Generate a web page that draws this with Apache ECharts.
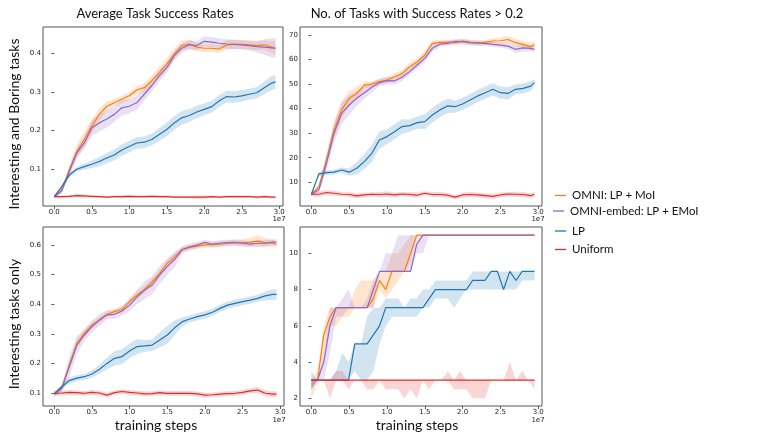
<!DOCTYPE html>
<html>
<head>
<meta charset="utf-8">
<script src="https://cdn.jsdelivr.net/npm/echarts@6/dist/echarts.min.js"></script>
<style>
html, body { margin: 0; padding: 0; background: #fff; }
#chart { width: 761px; height: 442px; }
</style>
</head>
<body>
<div id="chart"></div>
<script>
// method names and colours
const methods = ['OMNI: LP + MoI', 'OMNI-embed: LP + EMoI', 'LP', 'Uniform'];
const colors = ['#ff7f0e', '#9265c8', '#1f77b4', '#e32b2b'];

// training steps (x 1e7)
const steps = [0, 0.1, 0.2, 0.3, 0.4, 0.5, 0.6, 0.7, 0.8, 0.9, 1.0, 1.1, 1.2, 1.3, 1.4, 1.5,
  1.6, 1.7, 1.8, 1.9, 2.0, 2.1, 2.2, 2.3, 2.4, 2.5, 2.6, 2.7, 2.8, 2.9, 2.95];
const stepsCount = [0, 0.082, 0.164, 0.246, 0.328, 0.41, 0.492, 0.574, 0.656, 0.738, 0.82,
  0.902, 0.984, 1.066, 1.148, 1.23, 1.312, 1.394, 1.476, 1.558, 1.64, 1.722, 1.804, 1.886,
  1.968, 2.05, 2.132, 2.214, 2.296, 2.378, 2.46, 2.542, 2.624, 2.706, 2.788, 2.87, 2.952];

// tick labels
const xTicks = [0, 0.5, 1.0, 1.5, 2.0, 2.5, 3.0];
const yTicksAvgAll = [0.1, 0.2, 0.3, 0.4];
const yTicksCntAll = [10, 20, 30, 40, 50, 60, 70];
const yTicksAvgInt = [0.1, 0.2, 0.3, 0.4, 0.5, 0.6];
const yTicksCntInt = [2, 4, 6, 8, 10];

// panel 1: average success, interesting + boring
const omniAvgAll = [0.029, 0.046, 0.098, 0.146, 0.177, 0.211, 0.242, 0.263, 0.272, 0.281, 0.290, 0.305, 0.311, 0.329, 0.350, 0.372,
  0.398, 0.420, 0.424, 0.416, 0.413, 0.413, 0.411, 0.422, 0.423, 0.423, 0.422, 0.420, 0.422, 0.416, 0.413];
const embedAvgAll = [0.029, 0.044, 0.094, 0.142, 0.168, 0.207, 0.220, 0.230, 0.242, 0.259, 0.263, 0.272, 0.294, 0.316, 0.342, 0.363,
  0.394, 0.413, 0.422, 0.420, 0.431, 0.429, 0.426, 0.424, 0.423, 0.422, 0.420, 0.417, 0.416, 0.414, 0.413];
const lpAvgAll = [0.029, 0.055, 0.085, 0.100, 0.107, 0.113, 0.120, 0.129, 0.137, 0.150, 0.159, 0.168, 0.170, 0.177, 0.190, 0.203,
  0.220, 0.233, 0.239, 0.248, 0.255, 0.262, 0.277, 0.288, 0.287, 0.290, 0.294, 0.298, 0.311, 0.323, 0.326];
const uniAvgAll = [0.029, 0.029, 0.030, 0.032, 0.031, 0.030, 0.029, 0.028, 0.029, 0.029, 0.030, 0.029, 0.029, 0.030, 0.029, 0.029,
  0.028, 0.028, 0.028, 0.028, 0.028, 0.029, 0.028, 0.029, 0.029, 0.029, 0.029, 0.028, 0.029, 0.028, 0.028];
const omniAvgAllSd = [0.003, 0.006, 0.012, 0.018, 0.02, 0.018, 0.015, 0.012, 0.01, 0.01, 0.01, 0.01, 0.012, 0.015, 0.015, 0.016,
  0.015, 0.012, 0.012, 0.01, 0.01, 0.01, 0.01, 0.012, 0.012, 0.012, 0.012, 0.012, 0.012, 0.015, 0.018];
const embedAvgAllSd = [0.003, 0.005, 0.01, 0.012, 0.015, 0.02, 0.022, 0.022, 0.02, 0.02, 0.018, 0.018, 0.016, 0.015, 0.015, 0.014,
  0.012, 0.012, 0.012, 0.012, 0.013, 0.013, 0.012, 0.012, 0.012, 0.012, 0.012, 0.015, 0.02, 0.025, 0.025];
const lpAvgAllSd = [0.002, 0.004, 0.006, 0.006, 0.008, 0.01, 0.012, 0.013, 0.014, 0.015, 0.015, 0.015, 0.015, 0.015, 0.016, 0.018,
  0.018, 0.018, 0.017, 0.016, 0.015, 0.015, 0.015, 0.015, 0.015, 0.015, 0.014, 0.015, 0.016, 0.018, 0.018];
const uniAvgAllSd = [0.002, 0.003, 0.003, 0.004, 0.004, 0.003, 0.003, 0.003, 0.003, 0.004, 0.004, 0.003, 0.003, 0.003, 0.004, 0.003,
  0.003, 0.003, 0.003, 0.004, 0.004, 0.003, 0.003, 0.003, 0.004, 0.004, 0.003, 0.003, 0.003, 0.003, 0.003];

// panel 2: tasks with success > 0.2, interesting + boring
const omniCntAll = [5.1, 8.2, 19.1, 31.3, 39.5, 44.2, 46.2, 49.6, 50, 51, 51.7, 53, 54.4, 57.1, 59.1, 61.9,
  66.6, 67, 67.1, 66.9, 67.6, 67, 66.9, 67, 67.6, 67.7, 68.2, 66.9, 66.2, 65.2, 66.2];
const embedCntAll = [5.1, 6.9, 17.7, 30, 38.1, 41.5, 44.2, 46.5, 48.7, 50.6, 51.4, 51.3, 52.8, 55.1, 57.8, 60.5,
  64.6, 66.3, 66.6, 67.4, 67.3, 66.9, 66.7, 66.6, 66.2, 65.9, 65.5, 64.2, 64.8, 64.6, 64.2];
const lpCntAll = [5.1, 13.4, 13.9, 14.1, 15, 14.1, 15.7, 18.4, 21.8, 27.2, 28.6, 30.6, 32.7, 33.1, 34.3, 34.7,
  37.4, 39.5, 41.1, 40.8, 41.9, 43.5, 45.2, 46.5, 47.9, 46.5, 46.2, 47.9, 48.3, 49.2, 50.6];
const uniCntAll = [5.1, 5.1, 5.8, 5.5, 5.1, 5.0, 4.4, 4.8, 5.1, 5.0, 5.2, 4.8, 5.2, 5.0, 4.7, 5.5,
  5.0, 5.0, 4.7, 3.9, 4.8, 5.0, 4.8, 4.5, 4.2, 4.8, 5.2, 5.1, 5.0, 4.5, 5.1];
const omniCntAllSd = [0.5, 1, 2.5, 3.5, 3.5, 3, 2.5, 1.5, 1.2, 1.2, 1.2, 1.5, 1.5, 1.5, 1.5, 1.5,
  1.2, 1, 1, 1, 1, 1, 1, 1, 1.2, 1.2, 1.5, 1.5, 1.5, 1.5, 1.5];
const embedCntAllSd = [0.5, 1, 3, 4, 4.5, 4, 3, 2.5, 2, 1.5, 1.5, 1.5, 1.5, 1.5, 1.5, 1.5,
  1.5, 1.2, 1, 1, 1, 1, 1, 1, 1, 1, 1.2, 1.5, 1.5, 1.2, 1.2];
const lpCntAllSd = [0.5, 1, 1, 1, 1, 1.5, 2.5, 3, 3.5, 3.5, 3, 3, 3, 2.5, 2.5, 3,
  3, 3, 3, 2.5, 2.5, 2.5, 2.5, 2.5, 2.5, 2.5, 2.5, 2, 2, 2, 1.5];
const uniCntAllSd = [0.8, 1, 1, 1, 0.8, 1, 1, 1, 0.8, 1, 1, 1, 0.8, 1, 1, 0.8,
  1, 1, 1, 0.8, 1, 1, 1, 1, 1, 1, 0.8, 1, 1, 1, 1];

// panel 3: average success, interesting tasks only
const omniAvgInt = [0.097, 0.116, 0.195, 0.268, 0.302, 0.330, 0.347, 0.366, 0.375, 0.383, 0.409, 0.431, 0.450, 0.476, 0.504, 0.538,
  0.561, 0.585, 0.592, 0.597, 0.600, 0.602, 0.603, 0.606, 0.608, 0.608, 0.610, 0.613, 0.608, 0.606, 0.602];
const embedAvgInt = [0.097, 0.116, 0.189, 0.262, 0.296, 0.324, 0.347, 0.364, 0.366, 0.377, 0.397, 0.425, 0.448, 0.465, 0.499, 0.527,
  0.552, 0.585, 0.594, 0.600, 0.609, 0.602, 0.606, 0.608, 0.609, 0.606, 0.603, 0.606, 0.606, 0.610, 0.610];
const lpAvgInt = [0.097, 0.121, 0.142, 0.150, 0.155, 0.164, 0.180, 0.200, 0.217, 0.223, 0.242, 0.257, 0.259, 0.262, 0.279, 0.296,
  0.321, 0.341, 0.350, 0.358, 0.364, 0.373, 0.386, 0.397, 0.403, 0.409, 0.414, 0.420, 0.428, 0.433, 0.433];
const uniAvgInt = [0.099, 0.100, 0.102, 0.101, 0.099, 0.102, 0.100, 0.093, 0.101, 0.105, 0.102, 0.100, 0.097, 0.098, 0.101, 0.099,
  0.099, 0.099, 0.099, 0.097, 0.093, 0.094, 0.096, 0.098, 0.099, 0.102, 0.107, 0.110, 0.099, 0.096, 0.096];
const omniAvgIntSd = [0.008, 0.01, 0.015, 0.015, 0.012, 0.01, 0.01, 0.01, 0.01, 0.01, 0.012, 0.012, 0.012, 0.012, 0.012, 0.012,
  0.012, 0.01, 0.01, 0.01, 0.01, 0.01, 0.01, 0.01, 0.01, 0.012, 0.015, 0.02, 0.015, 0.012, 0.01];
const embedAvgIntSd = [0.008, 0.012, 0.035, 0.03, 0.02, 0.02, 0.02, 0.015, 0.015, 0.015, 0.02, 0.025, 0.03, 0.03, 0.03, 0.028,
  0.025, 0.01, 0.01, 0.01, 0.01, 0.01, 0.01, 0.01, 0.01, 0.01, 0.01, 0.01, 0.01, 0.01, 0.01];
const lpAvgIntSd = [0.005, 0.008, 0.01, 0.01, 0.01, 0.012, 0.015, 0.02, 0.025, 0.025, 0.025, 0.025, 0.02, 0.02, 0.025, 0.03,
  0.025, 0.015, 0.012, 0.012, 0.012, 0.012, 0.012, 0.012, 0.012, 0.012, 0.012, 0.012, 0.015, 0.018, 0.018];
const uniAvgIntSd = [0.008, 0.008, 0.008, 0.008, 0.008, 0.008, 0.008, 0.008, 0.008, 0.008, 0.008, 0.008, 0.008, 0.008, 0.008, 0.008,
  0.008, 0.008, 0.008, 0.008, 0.008, 0.008, 0.008, 0.008, 0.008, 0.008, 0.008, 0.01, 0.01, 0.01, 0.01];

// panel 4: tasks with success > 0.2, interesting tasks only (min / max bands)
const omniCntInt = [3, 3, 5.5, 6.5, 7, 7, 7, 7, 7, 7, 7.5, 8.5, 8, 9, 9, 9, 10,
  11, 11, 11, 11, 11, 11, 11, 11, 11, 11, 11, 11, 11, 11, 11, 11, 11, 11, 11, 11];
const embedCntInt = [3, 3, 4, 6, 7, 7, 7, 7, 7, 7, 8, 9, 9, 9, 9, 9, 9, 10.5,
  11, 11, 11, 11, 11, 11, 11, 11, 11, 11, 11, 11, 11, 11, 11, 11, 11, 11, 11];
const lpCntInt = [3, 3, 3, 3, 3, 3, 3, 5, 5, 5, 5.5, 6, 7, 7, 7, 7, 7, 7, 7, 7.5,
  8, 8, 8, 8, 8, 8, 8.5, 8.5, 8.5, 9, 9, 8, 9, 8.5, 9, 9, 9];
const uniCntInt = [3, 3, 3, 3, 3, 3, 3, 3, 3, 3, 3, 3, 3, 3, 3, 3, 3, 3, 3, 3,
  3, 3, 3, 3, 3, 3, 3, 3, 3, 3, 3, 3, 3, 3, 3, 3, 3];
const omniCntIntLo = [2, 2.8, 4.5, 6, 6, 6.5, 6.5, 7, 7, 7, 7, 8, 7.5, 8, 8.5, 9, 9.5,
  11, 11, 11, 11, 11, 11, 11, 11, 11, 11, 11, 11, 11, 11, 11, 11, 11, 11, 11, 11];
const omniCntIntHi = [3, 3.5, 6, 7, 7, 7, 7, 8, 8.5, 8.5, 8.5, 9, 9, 10, 10, 10.5, 11,
  11, 11, 11, 11, 11, 11, 11, 11, 11, 11, 11, 11, 11, 11, 11, 11, 11, 11, 11, 11];
const embedCntIntLo = [2.5, 3, 3, 4.5, 6.5, 6.5, 7, 7, 7, 7, 7, 9, 9, 9, 9, 9, 9, 10, 10,
  11, 11, 11, 11, 11, 11, 11, 11, 11, 11, 11, 11, 11, 11, 11, 11, 11, 11];
const embedCntIntHi = [3, 3, 4.5, 7, 7, 7.5, 8, 7, 7, 7.5, 8.5, 9, 10, 10, 11, 11, 11, 11, 11,
  11, 11, 11, 11, 11, 11, 11, 11, 11, 11, 11, 11, 11, 11, 11, 11, 11, 11];
const lpCntIntLo = [2.5, 3, 3, 3, 3, 3, 3, 3.5, 3, 3, 3.5, 5, 6, 6.5, 6.5, 6.5, 6.5, 6.5, 7, 7,
  7.5, 7.5, 7.5, 7, 7.5, 8, 8, 8, 8, 8, 8, 8, 8, 8, 8.5, 8.5, 8.5];
const lpCntIntHi = [3.5, 3, 3, 3, 3.5, 4.5, 4, 5, 5, 6.5, 7, 7, 7.5, 7.5, 7.5, 7, 7.5, 7.5, 8, 8,
  8.5, 8.5, 8.5, 8.5, 8.5, 8.5, 9, 9, 9, 9, 9, 9, 9, 9, 9, 9, 9];
const uniCntIntLo = [2.5, 3, 3, 2, 3, 3, 2.5, 3, 3, 2.5, 2.5, 3, 2.5, 2.5, 2.5, 2, 2.5, 2, 3, 2.5,
  3, 3, 3, 2.5, 2.5, 2.5, 2, 2, 2, 3, 3, 3, 3, 3, 3, 3, 2.5];
const uniCntIntHi = [3, 3, 3, 3, 3.5, 3.5, 3, 3, 3, 3, 3, 3, 3, 3, 3, 3, 3, 3, 3, 3,
  3, 3, 3.5, 3, 3.5, 3, 3, 3, 3, 3, 3, 3, 4, 3, 3.5, 3, 3];

const chart = echarts.init(document.getElementById('chart'), null, { renderer: 'canvas' });

const tickFont = { fontFamily: 'DejaVu Sans', fontSize: 7, color: '#222' };

// panel layout
const grids = [
  { left: 43, top: 27, width: 240, height: 179 },
  { left: 300, top: 27, width: 242, height: 179 },
  { left: 43, top: 227, width: 241, height: 179 },
  { left: 300, top: 227, width: 242, height: 179 }
];
const yRanges = [[0.005, 0.468], [0.3, 73.3], [0.056, 0.661], [1.575, 11.45]];
const yTicks = [yTicksAvgAll, yTicksCntAll, yTicksAvgInt, yTicksCntInt];
const yFmt = [v => v.toFixed(1), v => String(v), v => v.toFixed(1), v => String(v)];

function mkBand(xs, lo, hi) {
  return xs.map((x, i) => [x, lo[i], hi[i]]);
}
function fromSd(mean, sd, sign) {
  return mean.map((m, i) => m + sign * sd[i]);
}

const panels = [
  { xs: steps, lines: [omniAvgAll, embedAvgAll, lpAvgAll, uniAvgAll],
    lo: [fromSd(omniAvgAll, omniAvgAllSd, -1), fromSd(embedAvgAll, embedAvgAllSd, -1), fromSd(lpAvgAll, lpAvgAllSd, -1), fromSd(uniAvgAll, uniAvgAllSd, -1)],
    hi: [fromSd(omniAvgAll, omniAvgAllSd, 1), fromSd(embedAvgAll, embedAvgAllSd, 1), fromSd(lpAvgAll, lpAvgAllSd, 1), fromSd(uniAvgAll, uniAvgAllSd, 1)] },
  { xs: steps, lines: [omniCntAll, embedCntAll, lpCntAll, uniCntAll],
    lo: [fromSd(omniCntAll, omniCntAllSd, -1), fromSd(embedCntAll, embedCntAllSd, -1), fromSd(lpCntAll, lpCntAllSd, -1), fromSd(uniCntAll, uniCntAllSd, -1)],
    hi: [fromSd(omniCntAll, omniCntAllSd, 1), fromSd(embedCntAll, embedCntAllSd, 1), fromSd(lpCntAll, lpCntAllSd, 1), fromSd(uniCntAll, uniCntAllSd, 1)] },
  { xs: steps, lines: [omniAvgInt, embedAvgInt, lpAvgInt, uniAvgInt],
    lo: [fromSd(omniAvgInt, omniAvgIntSd, -1), fromSd(embedAvgInt, embedAvgIntSd, -1), fromSd(lpAvgInt, lpAvgIntSd, -1), fromSd(uniAvgInt, uniAvgIntSd, -1)],
    hi: [fromSd(omniAvgInt, omniAvgIntSd, 1), fromSd(embedAvgInt, embedAvgIntSd, 1), fromSd(lpAvgInt, lpAvgIntSd, 1), fromSd(uniAvgInt, uniAvgIntSd, 1)] },
  { xs: stepsCount, lines: [omniCntInt, embedCntInt, lpCntInt, uniCntInt],
    lo: [omniCntIntLo, embedCntIntLo, lpCntIntLo, uniCntIntLo],
    hi: [omniCntIntHi, embedCntIntHi, lpCntIntHi, uniCntIntHi] }
];

const xAxes = grids.map((g, i) => ({
  type: 'value', gridIndex: i, min: -0.15, max: 3.05,
  axisLine: { show: false },
  splitLine: { show: false },
  axisTick: { show: true, length: 3, customValues: xTicks, lineStyle: { color: '#333', width: 0.8 } },
  axisLabel: Object.assign({ customValues: xTicks, margin: 3, formatter: v => v.toFixed(1) }, tickFont)
}));

const yAxes = grids.map((g, i) => ({
  type: 'value', gridIndex: i, min: yRanges[i][0], max: yRanges[i][1],
  axisLine: { show: false },
  splitLine: { show: false },
  axisTick: { show: true, length: 3, customValues: yTicks[i], lineStyle: { color: '#333', width: 0.8 } },
  axisLabel: Object.assign({ customValues: yTicks[i], margin: 2, formatter: yFmt[i] }, tickFont)
}));

const series = [];
panels.forEach((p, pi) => {
  // shaded bands first
  p.lines.forEach((line, si) => {
    const band = mkBand(p.xs, p.lo[si], p.hi[si]);
    series.push({
      type: 'custom', name: 'band', xAxisIndex: pi, yAxisIndex: pi,
      silent: true, clip: true, z: 1,
      data: band,
      encode: { x: 0, y: [1, 2] },
      renderItem: (params, api) => {
        if (params.dataIndex !== 0) return null;
        const pts = [];
        band.forEach(d => pts.push(api.coord([d[0], d[2]])));
        for (let k = band.length - 1; k >= 0; k--) pts.push(api.coord([band[k][0], band[k][1]]));
        return { type: 'polygon', shape: { points: pts }, style: { fill: colors[si], opacity: 0.2 } };
      }
    });
  });
  p.lines.forEach((line, si) => {
    series.push({
      type: 'line', name: methods[si], xAxisIndex: pi, yAxisIndex: pi,
      data: p.xs.map((x, k) => [x, line[k]]),
      showSymbol: false, symbol: 'none', z: 3,
      lineStyle: { color: colors[si], width: 1.2 },
      itemStyle: { color: colors[si] }
    });
  });
});

const labelFont = { fontFamily: 'Lato', fill: '#111' };
const smallFont = { fontFamily: 'DejaVu Sans', fontSize: 7, fill: '#222', align: 'center', verticalAlign: 'middle' };
const graphic = [
  { type: 'text', x: 155, y: 14, style: Object.assign({ text: 'Average Task Success Rates', fontSize: 13, align: 'center', verticalAlign: 'middle' }, labelFont) },
  { type: 'text', x: 417, y: 14, style: Object.assign({ text: 'No. of Tasks with Success Rates > 0.2', fontSize: 13, align: 'center', verticalAlign: 'middle' }, labelFont) },
  { type: 'text', x: 14, y: 124, rotation: Math.PI / 2, style: Object.assign({ text: 'Interesting and Boring tasks', fontSize: 14, align: 'center', verticalAlign: 'middle' }, labelFont) },
  { type: 'text', x: 14, y: 324, rotation: Math.PI / 2, style: Object.assign({ text: 'Interesting tasks only', fontSize: 14, align: 'center', verticalAlign: 'middle' }, labelFont) },
  { type: 'text', x: 156, y: 425, style: Object.assign({ text: 'training steps', fontSize: 14, align: 'center', verticalAlign: 'middle' }, labelFont) },
  { type: 'text', x: 417, y: 425, style: Object.assign({ text: 'training steps', fontSize: 14, align: 'center', verticalAlign: 'middle' }, labelFont) },
  { type: 'text', x: 279, y: 219, style: Object.assign({ text: '1e7' }, smallFont) },
  { type: 'text', x: 538, y: 219, style: Object.assign({ text: '1e7' }, smallFont) },
  { type: 'text', x: 279, y: 420, style: Object.assign({ text: '1e7' }, smallFont) },
  { type: 'text', x: 538, y: 420, style: Object.assign({ text: '1e7' }, smallFont) }
];

// legend drawn as short lines with labels
const legendY = [195.5, 211, 231, 249.5];
const legendX = [555, 553, 555, 555];
methods.forEach((name, i) => {
  graphic.push({ type: 'line', shape: { x1: legendX[i], y1: legendY[i], x2: legendX[i] + 11, y2: legendY[i] },
    style: { stroke: colors[i], lineWidth: 1.3 } });
  graphic.push({ type: 'text', x: legendX[i] + 17, y: legendY[i],
    style: Object.assign({ text: name, fontSize: 11.5, verticalAlign: 'middle' }, labelFont) });
});

const option = {
  backgroundColor: '#ffffff',
  animation: false,
  grid: grids.map(g => Object.assign({ show: true, borderColor: '#555', borderWidth: 1, backgroundColor: 'transparent' }, g)),
  xAxis: xAxes,
  yAxis: yAxes,
  graphic: graphic,
  series: series
};

chart.setOption(option);
</script>
</body>
</html>
